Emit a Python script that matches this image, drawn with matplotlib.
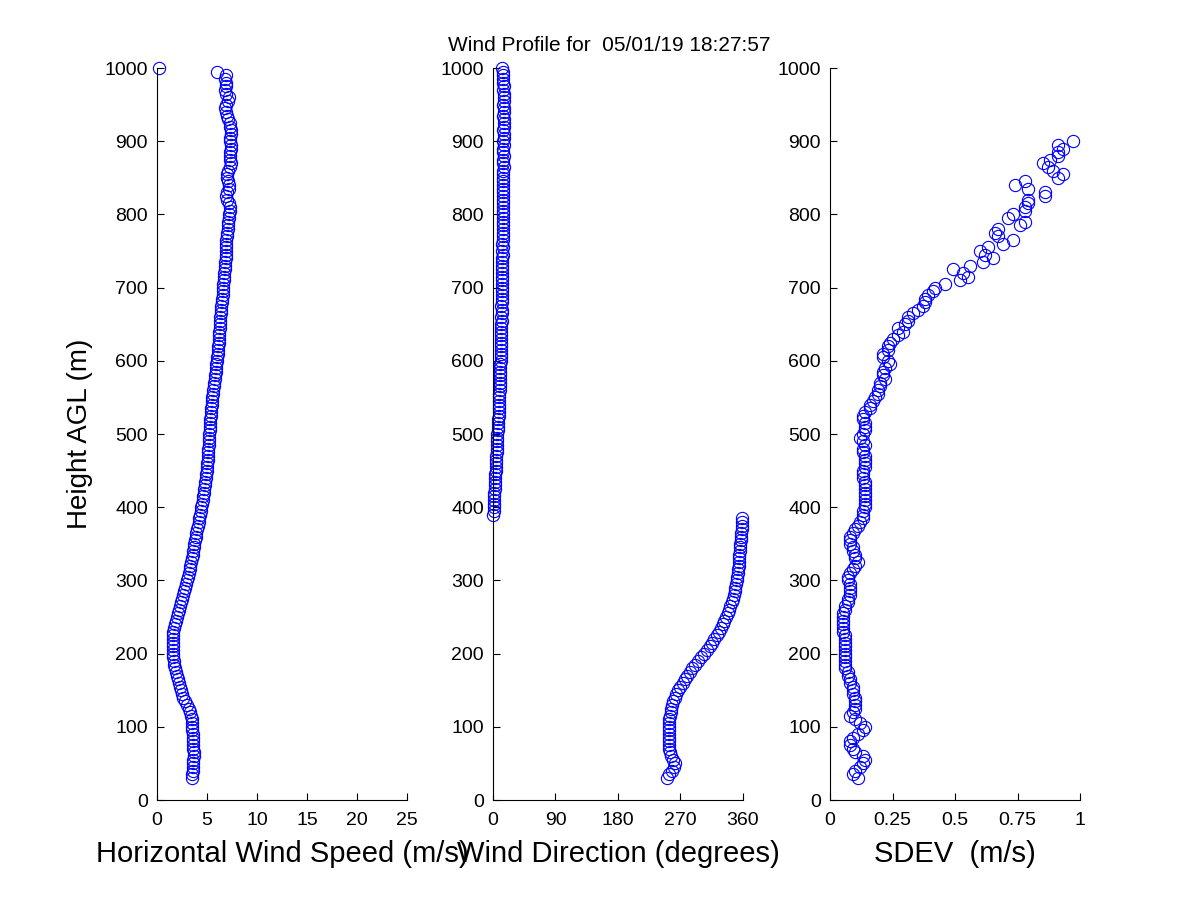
import matplotlib
matplotlib.use("Agg")
import matplotlib.pyplot as plt
import numpy as np

# =========== Data ===================================

# range gates, 5 m apart from 30 m to 1000 m
heights = np.arange(30, 1005, 5)

speed = [
    3.5, 3.5, 3.6, 3.6, 3.6, 3.6, 3.7, 3.7, 3.6, 3.6,  # 30-75
    3.6, 3.6, 3.6, 3.5, 3.5, 3.5, 3.5, 3.4, 3.3, 3.2,  # 80-125
    3.0, 2.8, 2.6, 2.5, 2.4, 2.3, 2.2, 2.1, 2.0, 1.9,  # 130-175
    1.8, 1.7, 1.7, 1.6, 1.6, 1.6, 1.6, 1.6, 1.6, 1.6,  # 180-225
    1.6, 1.7, 1.8, 1.9, 2.0, 2.1, 2.2, 2.3, 2.4, 2.5,  # 230-275
    2.6, 2.7, 2.8, 2.9, 3.0, 3.1, 3.2, 3.3, 3.3, 3.4,  # 280-325
    3.5, 3.6, 3.6, 3.7, 3.7, 3.8, 3.9, 3.9, 4.0, 4.1,  # 330-375
    4.2, 4.2, 4.3, 4.4, 4.4, 4.5, 4.6, 4.6, 4.7, 4.7,  # 380-425
    4.8, 4.8, 4.9, 4.9, 5.0, 5.0, 5.0, 5.1, 5.1, 5.1,  # 430-475
    5.1, 5.2, 5.2, 5.2, 5.2, 5.3, 5.3, 5.3, 5.3, 5.4,  # 480-525
    5.4, 5.4, 5.5, 5.5, 5.5, 5.6, 5.6, 5.7, 5.7, 5.8,  # 530-575
    5.8, 5.9, 5.9, 5.9, 6.0, 6.0, 6.1, 6.1, 6.1, 6.2,  # 580-625
    6.2, 6.2, 6.2, 6.3, 6.3, 6.3, 6.3, 6.4, 6.4, 6.4,  # 630-675
    6.5, 6.5, 6.6, 6.6, 6.6, 6.6, 6.7, 6.7, 6.7, 6.8,  # 680-725
    6.8, 6.8, 6.9, 6.9, 6.9, 6.9, 6.9, 6.9, 7.0, 7.0,  # 730-775
    7.1, 7.1, 7.1, 7.2, 7.2, 7.3, 7.3, 7.2, 7.0, 6.9,  # 780-825
    7.0, 7.2, 7.2, 7.1, 7.0, 7.0, 7.1, 7.3, 7.4, 7.3,  # 830-875
    7.3, 7.3, 7.4, 7.4, 7.3, 7.3, 7.4, 7.4, 7.3, 7.3,  # 880-925
    7.1, 7.0, 6.9, 6.8, 6.9, 7.1, 7.2, 6.9, 6.8, 6.9,  # 930-975
    6.9, 6.8, 6.9, 6.0, 0.25,                          # 980-1000
]

direction = [
    250, 254, 258, 261, 262, 260, 257, 255, 254, 253,
    253, 253, 253, 253, 253, 254, 254, 255, 256, 257,
    258, 260, 262, 264, 267, 270, 273, 277, 280, 284,
    287, 291, 295, 299, 304, 308, 312, 315, 319, 322,
    325, 328, 331, 333, 336, 338, 340, 342, 344, 346,
    347, 348, 349, 350, 351, 352, 353, 353, 354, 354,
    355, 355, 356, 356, 356, 357, 357, 357, 358, 358,
    358, 358, 0.5, 1.0, 1.0, 1.5, 1.5, 2.0, 2.0, 2.5,
    2.5, 3.0, 3.5, 3.5, 4.0, 4.0, 4.5, 5.0, 5.0, 5.5,
    5.5, 6.0, 6.0, 6.5, 6.5, 7.0, 7.0, 7.5, 7.5, 8.0,
    8.0, 8.5, 8.5, 9.0, 9.0, 9.0, 9.5, 9.5, 10.0, 10.0,
    10.0, 10.5, 10.5, 10.5, 11.0, 11.0, 11.0, 11.5, 11.5, 11.5,
    12.0, 11.5, 12.0, 12.0, 12.0, 12.5, 12.0, 12.5, 12.5, 12.0,
    12.5, 13.0, 12.5, 13.0, 12.5, 13.0, 13.0, 13.5, 13.0, 13.5,
    13.5, 13.0, 13.5, 14.0, 13.5, 14.0, 13.5, 14.0, 14.0, 14.5,
    14.0, 14.0, 14.5, 15.0, 14.5, 14.0, 14.5, 15.0, 14.5, 14.5,
    15.0, 14.5, 15.0, 15.0, 14.5, 15.0, 15.0, 15.5, 15.0, 15.0,
    15.5, 15.0, 15.0, 15.5, 15.0, 15.5, 15.5, 15.0, 15.5, 16.0,
    15.5, 15.0, 15.5, 15.5, 15.0, 15.5, 16.0, 15.5, 15.0, 15.5,
    15.0, 15.0, 14.5, 14.0, 13.0,
]

# SDEV only reported up to 900 m
sdev = [
    0.11, 0.09, 0.10, 0.12, 0.13, 0.14, 0.13, 0.10, 0.09, 0.08,
    0.08, 0.09, 0.11, 0.13, 0.14, 0.12, 0.10, 0.08, 0.09, 0.10,
    0.10, 0.10, 0.10, 0.09, 0.09, 0.09, 0.08, 0.08, 0.07, 0.07,
    0.06, 0.06, 0.06, 0.06, 0.06, 0.06, 0.06, 0.06, 0.06, 0.06,
    0.05, 0.05, 0.05, 0.05, 0.05, 0.05, 0.06, 0.06, 0.07, 0.07,
    0.08, 0.08, 0.08, 0.08, 0.07, 0.07, 0.08, 0.09, 0.10, 0.11,
    0.10, 0.10, 0.09, 0.09, 0.08, 0.08, 0.08, 0.09, 0.10, 0.11,
    0.12, 0.13, 0.13, 0.13, 0.14, 0.14, 0.14, 0.14, 0.14, 0.14,
    0.14, 0.14, 0.13, 0.13, 0.13, 0.14, 0.14, 0.14, 0.14, 0.13,
    0.13, 0.14, 0.13, 0.12, 0.13, 0.14, 0.14, 0.14, 0.13, 0.13,
    0.14, 0.16, 0.16, 0.17, 0.18, 0.19, 0.19, 0.20, 0.20, 0.22,
    0.21, 0.21, 0.22, 0.24, 0.23, 0.21, 0.21, 0.23, 0.23, 0.24,
    0.25, 0.27, 0.29, 0.27, 0.30, 0.31, 0.31, 0.33, 0.35, 0.37,
    0.38, 0.38, 0.39, 0.41, 0.42, 0.46, 0.52, 0.55, 0.53, 0.49,
    0.56, 0.61, 0.65, 0.62, 0.60, 0.63, 0.69, 0.73, 0.67, 0.66,
    0.67, 0.76, 0.78, 0.71, 0.73, 0.78, 0.78, 0.79, 0.79, 0.86,
    0.86, 0.79, 0.74, 0.78, 0.91, 0.93, 0.89, 0.87, 0.85, 0.88,
    0.91, 0.91, 0.93, 0.91, 0.97,
]

assert len(speed) == len(heights)
assert len(direction) == len(heights)

title = "Wind Profile for  05/01/19 18:27:57"
yticks = list(range(0, 1001, 100))
speed_ticks = [0, 5, 10, 15, 20, 25]
dir_ticks = [0, 90, 180, 270, 360]
sdev_ticks = [0, 0.25, 0.5, 0.75, 1]
sdev_labels = ["0", "0.25", "0.5", "0.75", "1"]

# =========== Figure ============

plt.rcParams["font.family"] = ["Liberation Sans", "DejaVu Sans"]

fig = plt.figure(figsize=(12, 9), dpi=100, facecolor="white")

LEFTS = [0.1308, 0.4108, 0.6917]
BOTTOM = 0.1111
WIDTH = 0.2083
HEIGHT = 0.8133

panels = [
    (speed, heights, (0, 25), speed_ticks, None, "Horizontal Wind Speed (m/s)"),
    (direction, heights, (0, 360), dir_ticks, None, "Wind Direction (degrees)"),
    (sdev, heights[: len(sdev)], (0, 1), sdev_ticks, sdev_labels, "SDEV  (m/s)"),
]

axes = []
for left, (xs, ys, xlim, xt, xtl, xlabel) in zip(LEFTS, panels):
    ax = fig.add_axes([left, BOTTOM, WIDTH, HEIGHT])
    ax.plot(xs, ys, "o", markersize=8.8, markerfacecolor="none",
            markeredgecolor="blue", markeredgewidth=0.8, clip_on=False)
    ax.set_xlim(*xlim)
    ax.set_ylim(0, 1000)
    ax.set_xticks(xt)
    if xtl is not None:
        ax.set_xticklabels(xtl)
    ax.set_yticks(yticks)
    for side in ("top", "right"):
        ax.spines[side].set_visible(False)
    for side in ("left", "bottom"):
        ax.spines[side].set_linewidth(0.8)
    ax.tick_params(direction="in", length=5, width=0.8, labelsize=14)
    ax.tick_params(axis="y", pad=6.5)
    ax.tick_params(axis="x", pad=8.5)
    ax.set_xlabel(xlabel, fontsize=21)
    ax.xaxis.set_label_coords(0.5, -0.054)
    axes.append(ax)

axes[0].set_ylabel("Height AGL (m)", fontsize=20)
axes[0].yaxis.set_label_coords(-0.256, 0.5)
axes[1].set_title(title, fontsize=15, pad=12, x=0.464)

fig.savefig("out.png", dpi=100, facecolor="white")
